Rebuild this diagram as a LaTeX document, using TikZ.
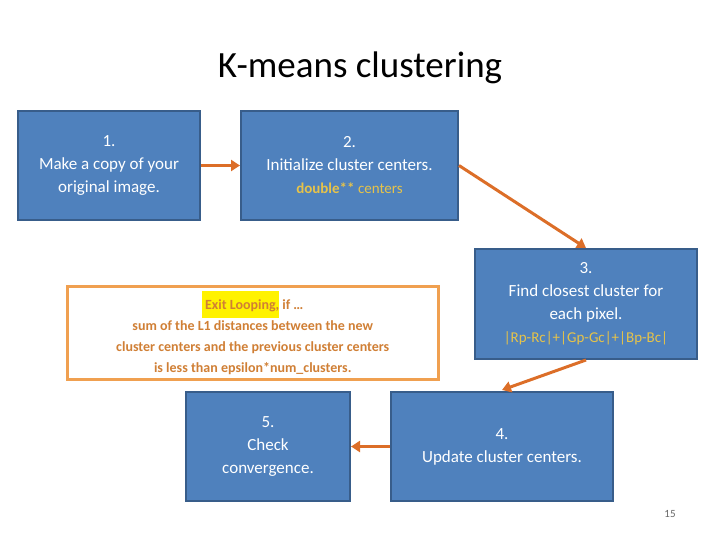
\documentclass[tikz,border=0pt]{standalone}
\usepackage{fontspec}
\setmainfont{Carlito}
\usetikzlibrary{arrows.meta}
\definecolor{boxfill}{HTML}{4F81BD}
\definecolor{boxline}{HTML}{385D8A}
\definecolor{arr}{HTML}{DC6E28}
\definecolor{gold}{HTML}{E6C34A}
\definecolor{exitc}{HTML}{D07F35}
\definecolor{exitb}{HTML}{F0A050}
\tikzset{
  stepbox/.style={draw=boxline, line width=2pt, fill=boxfill, text=white, align=center, font=\fontsize{17}{23}\selectfont, inner sep=0pt, anchor=north west},
  flow/.style={draw=arr, line width=3pt, -{Triangle[length=9pt,width=11pt]}},
  code/.style={text=gold}
}
\begin{document}
\begin{tikzpicture}[x=1pt,y=-1pt]
\useasboundingbox (0,0) rectangle (720,540);
\node (title) at (360,68) {\fontsize{37}{40}\selectfont K-means clustering};
\node[stepbox, minimum width=182pt, minimum height=109pt] (s1) at (17,110) {1.\\Make a copy of your\\original image.};
\node[stepbox, minimum width=217pt, minimum height=109pt] (s2) at (240,110) {2.\\Initialize cluster centers.\\{\color{gold}\fontsize{15}{20}\selectfont\textbf{double**} centers}};
\node[stepbox, minimum width=222pt, minimum height=110pt] (s3) at (474,248) {3.\\Find closest cluster for\\each pixel.\\{\color{gold}\fontsize{15}{20}\selectfont |Rp-Rc|+|Gp-Gc|+|Bp-Bc|}};
\node[draw=exitb, line width=2.5pt, fill=white, text=exitc, align=center, minimum width=371pt, minimum height=93pt, inner sep=0pt, anchor=north west, font=\bfseries\fontsize{14}{21}\selectfont] (exit) at (66,285) {\colorbox{yellow}{\strut Exit Looping}\hspace{-3pt}, if …\\sum of the L1 distances between the new\\cluster centers and the previous cluster centers\\is less than epsilon*num\_clusters.};
\node[stepbox, minimum width=164pt, minimum height=109pt] (s5) at (185,391) {5.\\Check\\convergence.};
\node[stepbox, minimum width=222pt, minimum height=109pt] (s4) at (390,391) {4.\\Update cluster centers.};
\node[text=gray!80!black, font=\fontsize{11}{12}\selectfont] (pg) at (670,514) {15};
\draw[flow] (s1.east) -- (s2.west);
\draw[flow] (s2.east) -- (s3.north);
\draw[flow] (s3.south) -- (502,390);
\draw[flow] (s4.west) -- (s5.east);
\end{tikzpicture}
\end{document}
